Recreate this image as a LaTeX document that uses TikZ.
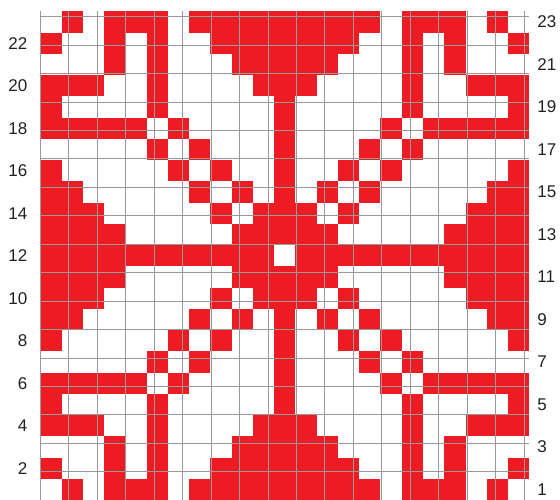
\documentclass[tikz,border=0pt]{standalone}
\usepackage{fontspec}
\setmainfont{Liberation Sans}
\definecolor{chartred}{HTML}{ED1C24}
\definecolor{gridgray}{HTML}{999999}
\definecolor{labelink}{HTML}{231F20}
\begin{document}
\begin{tikzpicture}[x=21.26pt,y=21.26pt,
  cell/.style={fill=chartred},
  gridline/.style={draw=gridgray,line width=0.8pt},
  rowlabel/.style={font=\fontsize{17}{17}\selectfont,text=labelink,inner sep=0pt}]
\useasboundingbox (-40.3pt,1.25pt) rectangle (519.7pt,500.25pt);
\foreach \r/\cs in {
 1/{2,4,5,6,8,9,10,11,12,13,14,15,16,18,19,20,22},
 2/{1,4,6,9,10,11,12,13,14,15,18,20,23},
 3/{4,6,10,11,12,13,14,18,20},
 4/{1,2,3,6,11,12,13,18,21,22,23},
 5/{1,6,12,18,23},
 6/{1,2,3,4,5,7,12,17,19,20,21,22,23},
 7/{6,8,12,16,18},
 8/{1,7,9,12,15,17,23},
 9/{1,2,8,10,12,14,16,22,23},
 10/{1,2,3,9,11,12,13,15,21,22,23},
 11/{1,2,3,4,10,11,12,13,14,20,21,22,23},
 12/{1,2,3,4,5,6,7,8,9,10,11,13,14,15,16,17,18,19,20,21,22,23}}
{
  \foreach \c in \cs {
    \fill[cell] (\c-1,\r-1) rectangle (\c,\r);
    \fill[cell] (\c-1,23-\r) rectangle (\c,24-\r);
  }
}
\draw[gridline] (0,0) grid (23,23);
\foreach \r in {2,4,...,22}
  \node[rowlabel,anchor=east,xshift=-12.8pt] (lab\r) at (0,\r-0.5) {\r};
\foreach \r in {1,3,...,23}
  \node[rowlabel,anchor=west,xshift=8pt] (lab\r) at (23,\r-0.5) {\r};
\end{tikzpicture}
\end{document}
